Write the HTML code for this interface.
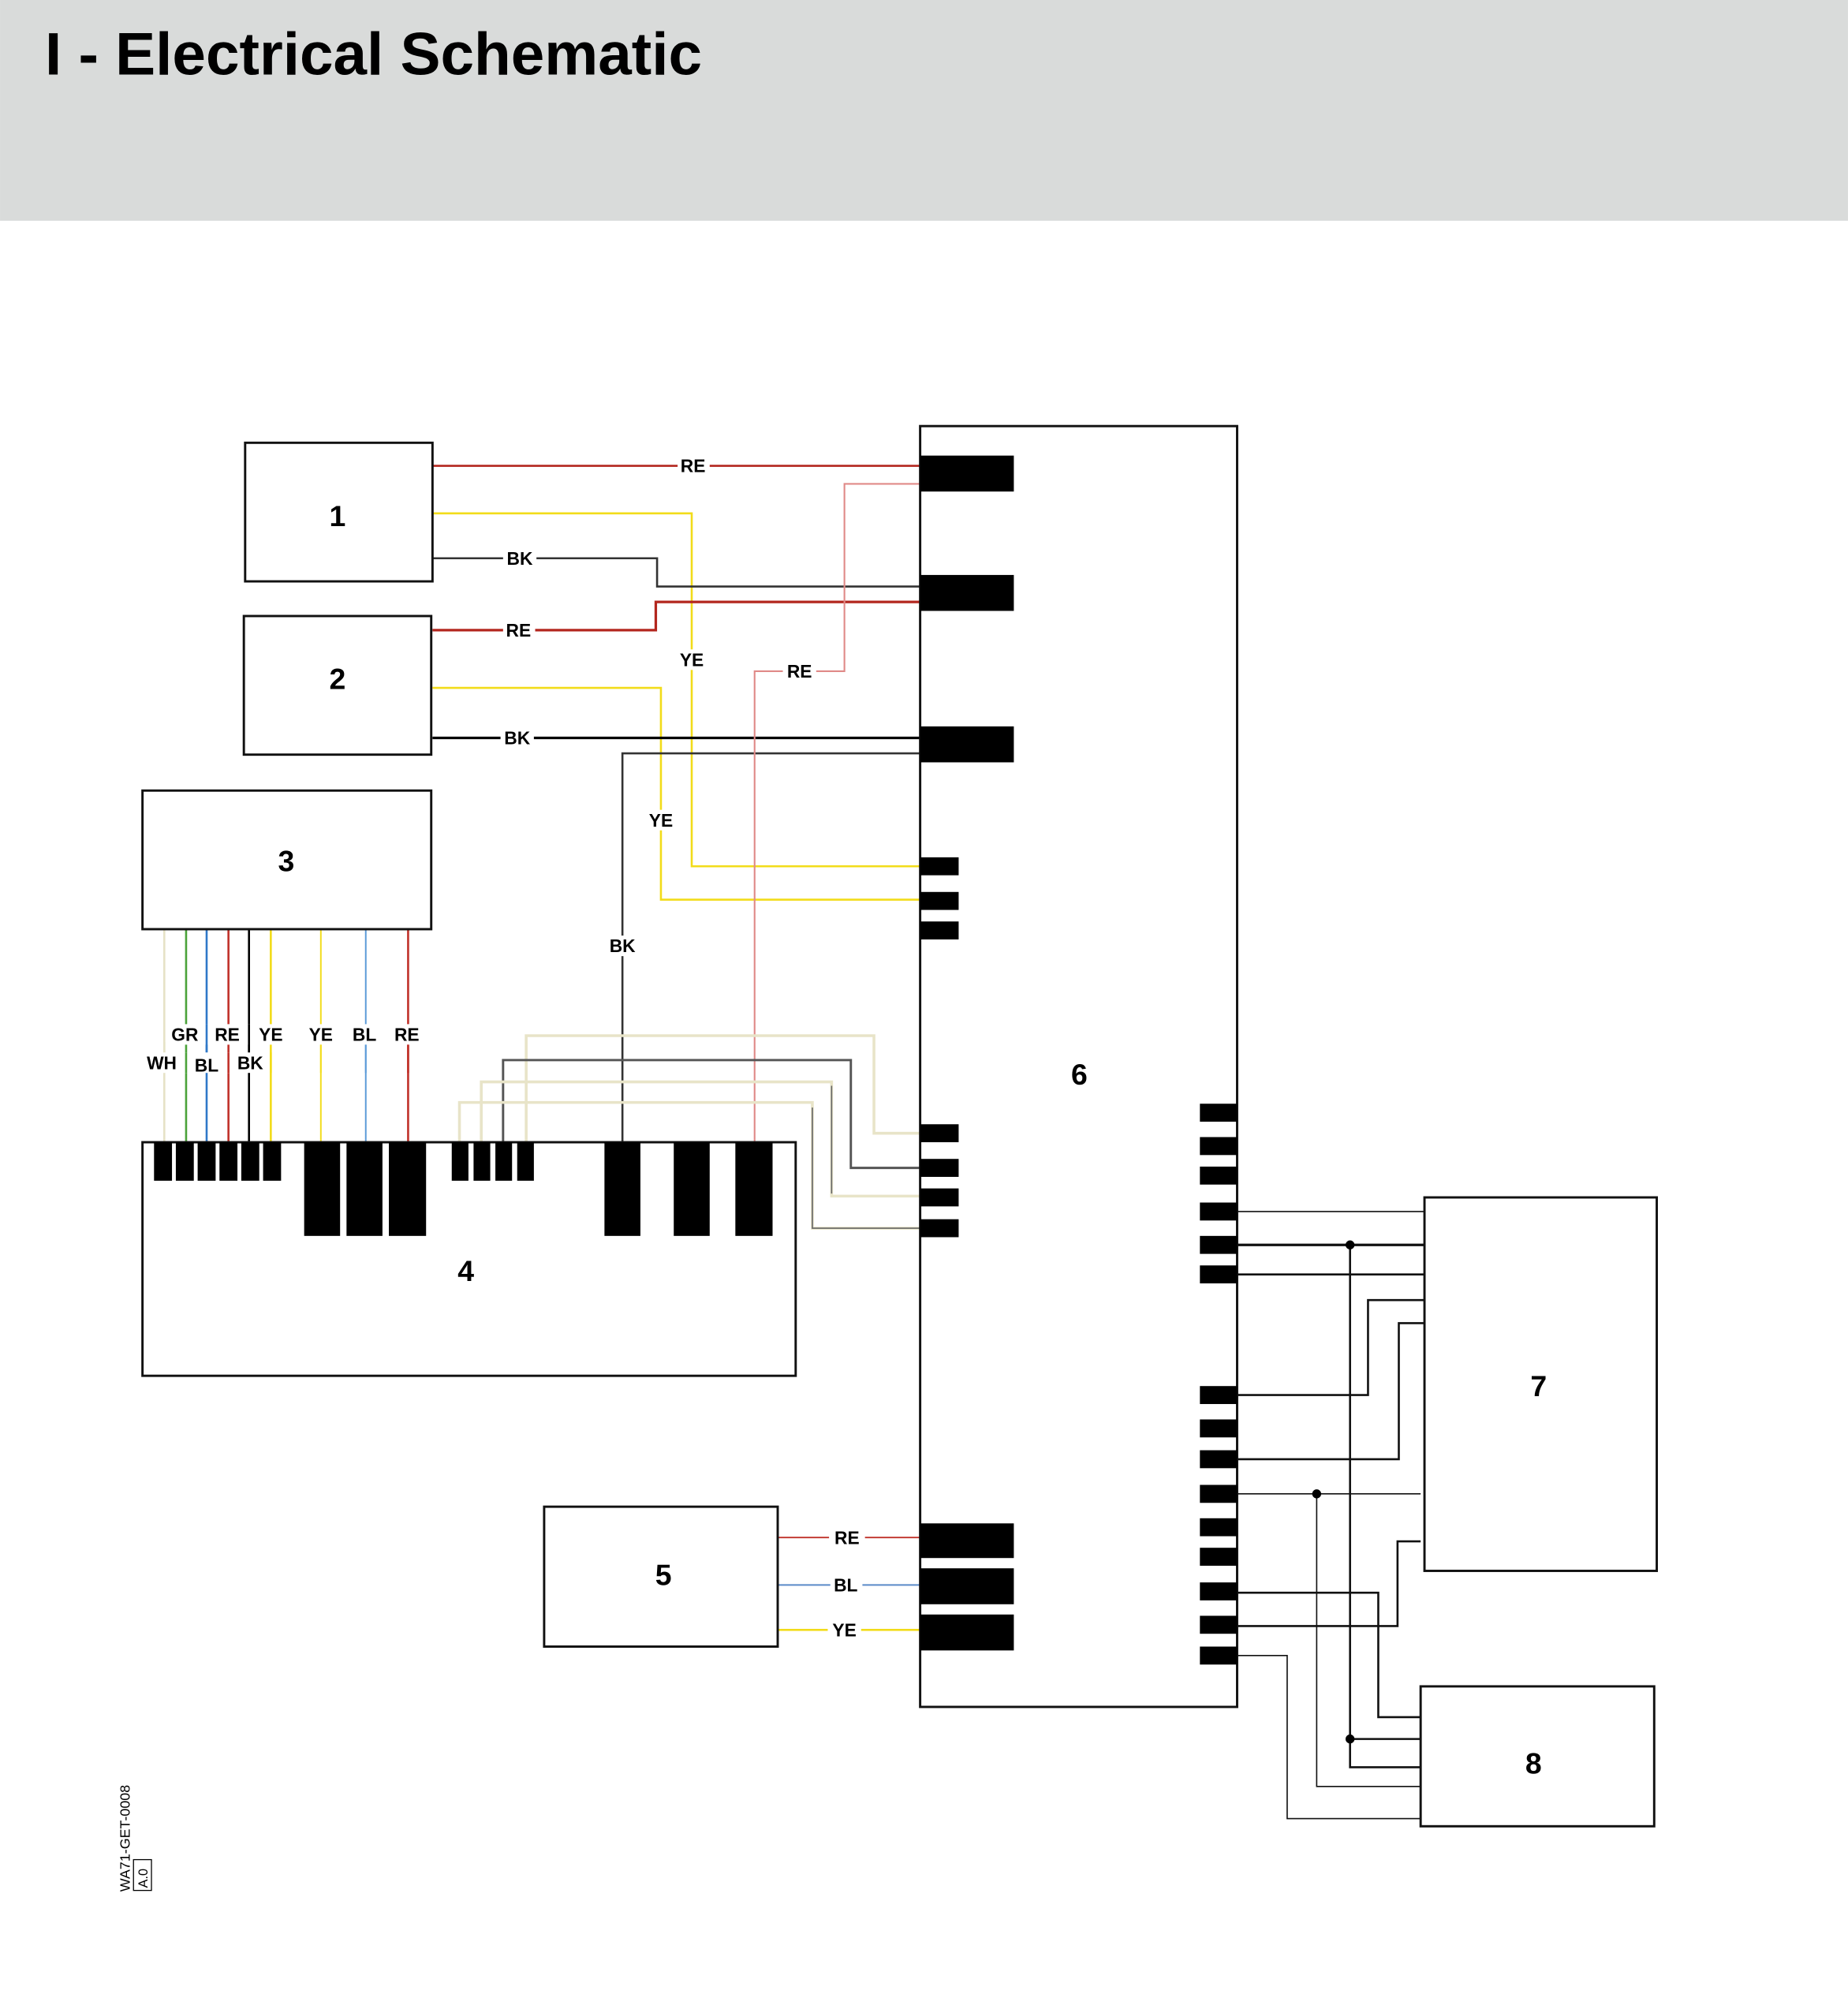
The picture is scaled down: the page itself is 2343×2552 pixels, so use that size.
<!DOCTYPE html>
<html><head><meta charset="utf-8"><style>
html,body{margin:0;padding:0;background:#fff;}
svg{display:block;}
text{font-family:"Liberation Sans",sans-serif;}
</style></head><body>
<svg width="2343" height="2552" viewBox="0 0 1440 1568.5" xmlns="http://www.w3.org/2000/svg">
<rect x="0" y="0" width="1440" height="172" fill="#d9dbda"/>
<text x="35" y="58" font-size="47" font-weight="bold" textLength="512" lengthAdjust="spacingAndGlyphs" fill="#000">I - Electrical Schematic</text>

<g fill="none" stroke-width="1.6">
<!-- box1 wires -->
<polyline points="337,363 717,363" stroke="#b3261e"/>
<polyline points="337,400 539,400 539,675 717,675" stroke="#f2dc1a"/>
<polyline points="337,435 512,435 512,457 717,457" stroke="#333"/>
<!-- box2 wires -->
<polyline points="337,491 511,491 511,469 717,469" stroke="#b3261e" stroke-width="2"/>
<polyline points="337,536 515,536 515,701 717,701" stroke="#f2dc1a"/>
<polyline points="337,575 717,575" stroke="#000" stroke-width="2"/>
<!-- from 4 -->
<polyline points="485,890 485,587 717,587" stroke="#333"/>
<polyline points="588,890 588,523 658,523 658,377 717,377" stroke="#e08a88" stroke-width="1.3"/>
<!-- box3 wires -->
<line x1="128" y1="724" x2="128" y2="890" stroke="#e6e2c6"/>
<line x1="145" y1="724" x2="145" y2="890" stroke="#4ba23a"/>
<line x1="161" y1="724" x2="161" y2="890" stroke="#2f78c8"/>
<line x1="178" y1="724" x2="178" y2="890" stroke="#c0322a"/>
<line x1="194" y1="724" x2="194" y2="890" stroke="#000"/>
<line x1="211" y1="724" x2="211" y2="890" stroke="#f2dc1a"/>
<line x1="250" y1="724" x2="250" y2="890" stroke="#f2dc1a" stroke-width="1.2"/>
<line x1="285" y1="724" x2="285" y2="890" stroke="#5a9ad8" stroke-width="1.2"/>
<line x1="318" y1="724" x2="318" y2="890" stroke="#c0322a"/>
<!-- cream/grey to 6 -->
<polyline points="410,890 410,807 681,807 681,883 717,883" stroke="#e8e4c8" stroke-width="2.2"/>
<polyline points="392,890 392,826 663,826 663,910 717,910" stroke="#555" stroke-width="1.8"/>
<polyline points="375,890 375,843 648,843 648,932 717,932" stroke="#e8e4c8" stroke-width="2.2"/>
<polyline points="358,890 358,859 633,859 633,957 717,957" stroke="#e8e4c8" stroke-width="2.2"/>
<polyline points="633,863 633,957 717,957" stroke="#666" stroke-width="1"/>
<polyline points="648,846 648,930" stroke="#666" stroke-width="1"/>
<!-- box5 wires -->
<line x1="606" y1="1198" x2="717" y2="1198" stroke="#c0322a" stroke-width="1.2"/>
<line x1="606" y1="1235" x2="717" y2="1235" stroke="#5a8ac8" stroke-width="1.2"/>
<line x1="606" y1="1270" x2="717" y2="1270" stroke="#f2dc1a" stroke-width="1.6"/>
<!-- right wires -->
<g stroke="#111">
<line x1="964" y1="944" x2="1110" y2="944" stroke-width="1"/>
<line x1="964" y1="970" x2="1110" y2="970" stroke-width="2"/>
<line x1="964" y1="993" x2="1110" y2="993" stroke-width="1.6"/>
<polyline points="1110,1013 1066,1013 1066,1087 964,1087" stroke-width="1.6"/>
<polyline points="1110,1031 1090,1031 1090,1137 964,1137" stroke-width="1.6"/>
<line x1="964" y1="1164" x2="1107" y2="1164" stroke-width="1"/>
<polyline points="1107,1201 1089,1201 1089,1267 964,1267" stroke-width="1.6"/>
<polyline points="964,1241 1074,1241 1074,1338 1107,1338" stroke-width="1.6"/>
<polyline points="1052,970 1052,1377 1107,1377" stroke-width="1.6"/>
<line x1="1052" y1="1355" x2="1107" y2="1355" stroke-width="1.6"/>
<polyline points="1026,1164 1026,1392 1107,1392" stroke-width="1"/>
<polyline points="964,1290 1003,1290 1003,1417 1107,1417" stroke-width="1"/>
</g>
</g>
<g fill="#000">
<circle cx="1052" cy="970" r="3.5"/><circle cx="1026" cy="1164" r="3.5"/><circle cx="1052" cy="1355" r="3.5"/>
</g>

<!-- boxes -->
<g fill="none" stroke="#111" stroke-width="1.8">
<rect x="191" y="345" width="146" height="108"/>
<rect x="190" y="480" width="146" height="108"/>
<rect x="111" y="616" width="225" height="108"/>
<rect x="111" y="890" width="509" height="182"/>
<rect x="424" y="1174" width="182" height="109"/>
<rect x="717" y="332" width="247" height="998"/>
<rect x="1110" y="933" width="181" height="291"/>
<rect x="1107" y="1314" width="182" height="109"/>
</g>

<!-- connectors -->
<g fill="#000">
<rect x="717" y="355" width="73" height="28"/>
<rect x="717" y="448" width="73" height="28"/>
<rect x="717" y="566" width="73" height="28"/>
<rect x="717" y="668" width="30" height="14"/>
<rect x="717" y="695" width="30" height="14"/>
<rect x="717" y="718" width="30" height="14"/>
<rect x="717" y="876" width="30" height="14"/>
<rect x="717" y="903" width="30" height="14"/>
<rect x="717" y="926" width="30" height="14"/>
<rect x="717" y="950" width="30" height="14"/>
<rect x="717" y="1187" width="73" height="27"/>
<rect x="717" y="1222" width="73" height="28"/>
<rect x="717" y="1258" width="73" height="28"/>
<rect x="935" y="860" width="29" height="14"/>
<rect x="935" y="886" width="29" height="14"/>
<rect x="935" y="909" width="29" height="14"/>
<rect x="935" y="937" width="29" height="14"/>
<rect x="935" y="963" width="29" height="14"/>
<rect x="935" y="986" width="29" height="14"/>
<rect x="935" y="1080" width="29" height="14"/>
<rect x="935" y="1106" width="29" height="14"/>
<rect x="935" y="1130" width="29" height="14"/>
<rect x="935" y="1157" width="29" height="14"/>
<rect x="935" y="1183" width="29" height="14"/>
<rect x="935" y="1206" width="29" height="14"/>
<rect x="935" y="1233" width="29" height="14"/>
<rect x="935" y="1259" width="29" height="14"/>
<rect x="935" y="1283" width="29" height="14"/>
<!-- box4 -->
<rect x="120" y="890" width="14" height="30"/><rect x="137" y="890" width="14" height="30"/>
<rect x="154" y="890" width="14" height="30"/><rect x="171" y="890" width="14" height="30"/>
<rect x="188" y="890" width="14" height="30"/><rect x="205" y="890" width="14" height="30"/>
<rect x="237" y="890" width="28" height="73"/><rect x="270" y="890" width="28" height="73"/>
<rect x="303" y="890" width="29" height="73"/>
<rect x="352" y="890" width="13" height="30"/><rect x="369" y="890" width="13" height="30"/>
<rect x="386" y="890" width="13" height="30"/><rect x="403" y="890" width="13" height="30"/>
<rect x="471" y="890" width="28" height="73"/><rect x="525" y="890" width="28" height="73"/>
<rect x="573" y="890" width="29" height="73"/>
</g>

<!-- numbers -->
<g font-size="23" font-weight="bold" text-anchor="middle" fill="#000">
<text x="263" y="410">1</text><text x="263" y="537">2</text><text x="223" y="679">3</text>
<text x="363" y="998">4</text><text x="517" y="1235">5</text><text x="841" y="845">6</text>
<text x="1199" y="1088">7</text><text x="1195" y="1382">8</text>
</g>

<!-- wire labels -->
<g font-size="14" font-weight="bold" text-anchor="middle" fill="#000">
<g fill="#fff">
<rect x="528" y="355" width="25" height="16"/><rect x="392" y="427" width="26" height="16"/>
<rect x="392" y="483" width="25" height="16"/><rect x="526" y="506" width="26" height="16"/>
<rect x="610" y="515" width="26" height="16"/><rect x="390" y="567" width="26" height="16"/>
<rect x="502" y="631" width="26" height="16"/><rect x="472" y="729" width="26" height="16"/>
<rect x="130" y="798" width="210" height="16"/><rect x="110" y="820" width="100" height="16"/>
<rect x="646" y="1190" width="28" height="16"/><rect x="647" y="1227" width="25" height="16"/>
<rect x="645" y="1262" width="26" height="16"/>
</g>
<text x="540" y="368">RE</text><text x="405" y="440">BK</text><text x="404" y="496">RE</text>
<text x="539" y="519">YE</text><text x="623" y="528">RE</text><text x="403" y="580">BK</text>
<text x="515" y="644">YE</text><text x="485" y="742">BK</text>
<text x="144" y="811">GR</text><text x="177" y="811">RE</text><text x="211" y="811">YE</text>
<text x="250" y="811">YE</text><text x="284" y="811">BL</text><text x="317" y="811">RE</text>
<text x="126" y="833">WH</text><text x="161" y="835">BL</text><text x="195" y="833">BK</text>
<text x="660" y="1203">RE</text><text x="659" y="1240">BL</text><text x="658" y="1275">YE</text>
</g>
<!-- restore wire segments across 3-wire label gaps -->
<g stroke-width="1.6">
<line x1="128" y1="812" x2="128" y2="820" stroke="#e6e2c6"/>
<line x1="161" y1="798" x2="161" y2="820" stroke="#2f78c8"/>
<line x1="194" y1="798" x2="194" y2="820" stroke="#000"/>
<line x1="145" y1="820" x2="145" y2="836" stroke="#4ba23a"/>
<line x1="178" y1="820" x2="178" y2="836" stroke="#c0322a"/>
<line x1="211" y1="820" x2="211" y2="836" stroke="#f2dc1a"/>
<line x1="250" y1="814" x2="250" y2="836" stroke="#f2dc1a" stroke-width="1.2"/>
<line x1="285" y1="814" x2="285" y2="836" stroke="#5a9ad8" stroke-width="1.2"/>
<line x1="318" y1="814" x2="318" y2="836" stroke="#c0322a"/>
</g>

<!-- doc code -->
<text transform="translate(101,1474) rotate(-90)" font-size="11" fill="#000">WA71-GET-0008</text>
<rect x="104" y="1449" width="14" height="24" fill="none" stroke="#000" stroke-width="0.8"/>
<text transform="translate(115,1471) rotate(-90)" font-size="10" fill="#000">A.0</text>
</svg>
</body></html>
